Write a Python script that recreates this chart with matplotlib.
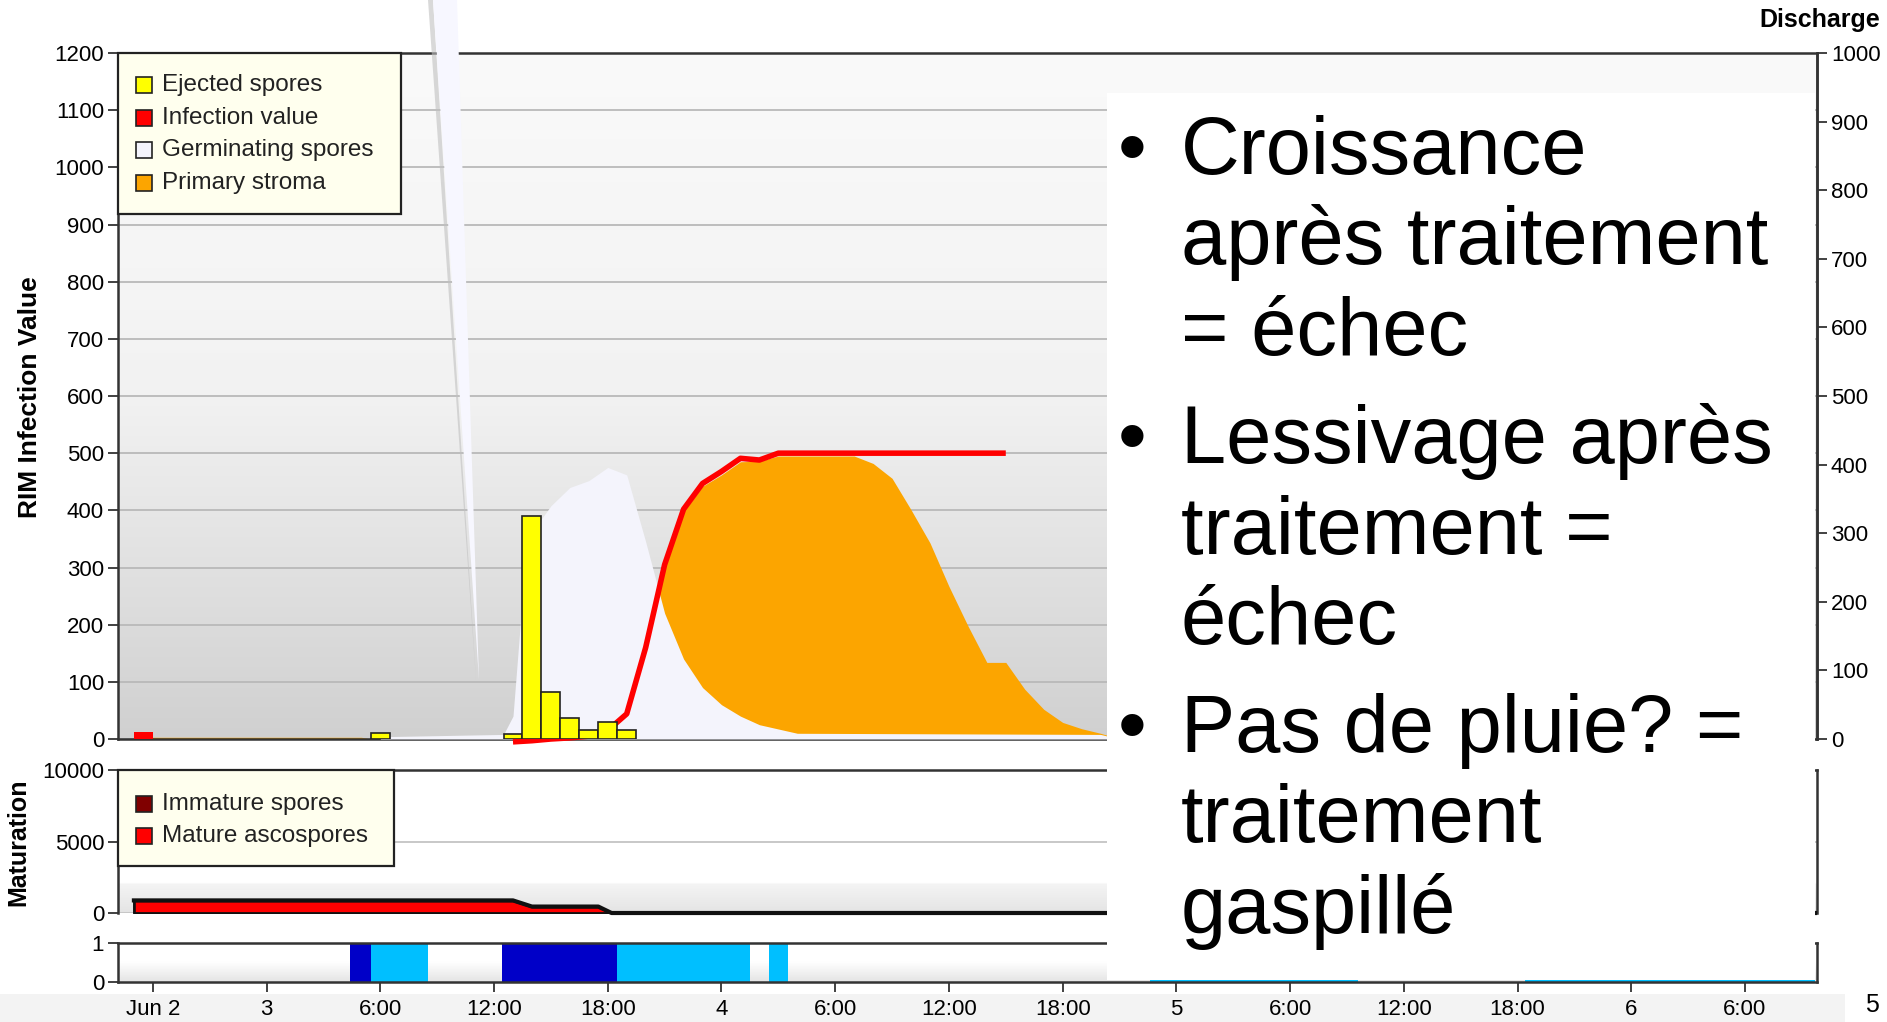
import numpy as np
import matplotlib
matplotlib.use("Agg")
import matplotlib.pyplot as plt
from matplotlib.patches import Rectangle, Polygon
from matplotlib.colors import LinearSegmentedColormap

plt.rcParams['font.family'] = ['Liberation Sans', 'DejaVu Sans']

W, H = 1887, 1022

# -----------------------------
# data (x = hours after the "Jun 2" tick)
# -----------------------------
tick_hours = list(range(0, 90, 6))
tick_labels = ["Jun 2", "3", "6:00", "12:00", "18:00", "4", "6:00", "12:00",
               "18:00", "5", "6:00", "12:00", "18:00", "6", "6:00"]

ejected_hours = [12, 19, 20, 21, 22, 23, 24, 25]
ejected_vals = [10, 9, 390, 83, 36, 15, 30, 16]

infection_first = 12
infection_hours = [19, 20, 21, 22, 23, 24, 25, 26, 27, 28, 29, 30, 31, 32, 33, 45]
infection_vals = [-5, -3, 0, 2, 5, 15, 44, 160, 305, 402, 447, 468, 491, 488, 500, 500]

germ_hours = [12, 18.5, 19, 19.5, 20, 20.5, 21, 22, 23, 24, 25, 26, 27, 28, 29,
              30, 31, 32, 34, 50, 51]
germ_vals = [4, 8, 40, 250, 340, 385, 408, 440, 452, 475, 462, 345, 220, 140, 90,
             60, 40, 25, 10, 8, 0]

stroma_hours = [-1, 11, 11.5, 22, 24, 25, 26, 27, 28, 29, 30, 31, 32, 33, 37, 38,
                39, 40, 41, 42, 43, 44, 45, 46, 47, 48, 49, 50, 51]
stroma_vals = [3, 3, 0, 0, 20, 50, 160, 300, 398, 442, 462, 485, 486, 495, 495, 482,
               456, 401, 343, 267, 198, 134, 134, 87, 52, 29, 18, 10, 0]

mat_hours = [-1, 19, 20, 23.5, 24.2, 87.7]
mature_vals = [880, 880, 450, 450, 0, 0]

wet_start = [10.4, 11.5, 18.4, 24.5, 32.5, 52.6, 72.4]
wet_end = [11.5, 14.5, 24.5, 31.5, 33.5, 63.6, 87.7]
wet_dark = [True, False, True, False, False, False, False]

discharge_ticks = list(range(0, 1001, 100))

bullets = [["Croissance", "après traitement", "= échec"],
           ["Lessivage après", "traitement =", "échec"],
           ["Pas de pluie? =", "traitement", "gaspillé"]]


def fx(x):
    return x / W


def fy(y):
    return 1 - y / H


XL = (-1.84, 87.8)
L, R = 118, 1817
fig = plt.figure(figsize=(W / 100, H / 100), dpi=100)

ax = fig.add_axes([fx(L), fy(739), fx(R) - fx(L), fy(53) - fy(739)])
axm = fig.add_axes([fx(L), fy(913), fx(R) - fx(L), fy(770) - fy(913)])
axw = fig.add_axes([fx(L), fy(982), fx(R) - fx(L), fy(943) - fy(982)])

grad = np.linspace(0, 1, 256).reshape(-1, 1)
cm_main = LinearSegmentedColormap.from_list('m', ['#d0d0d0', '#f2f2f2', '#fafafa'])
ax.imshow(grad, cmap=cm_main, aspect='auto', origin='lower',
          extent=(XL[0], XL[1], 0, 1200), zorder=0)
cm_mat = LinearSegmentedColormap.from_list('mt', [(0, '#e4e4e4'), (0.2, '#f4f4f4'),
                                                  (0.21, 'white'), (1, 'white')])
axm.imshow(grad, cmap=cm_mat, aspect='auto', origin='lower',
           extent=(XL[0], XL[1], 0, 10000), zorder=0)
cm_wet = LinearSegmentedColormap.from_list('w', ['#e4e4e4', 'white', 'white'])
axw.imshow(grad, cmap=cm_wet, aspect='auto', origin='lower',
           extent=(XL[0], XL[1], 0, 1), zorder=0)

# --- main panel ---
ax.fill_between(stroma_hours, stroma_vals, color='#fca500', lw=0, zorder=2)
ax.fill_between(germ_hours, germ_vals, color='#f4f4fc', lw=0, zorder=3)
ax.bar(-0.5, infection_first, width=1, color='#ff0000', zorder=4)
ax.plot(infection_hours, infection_vals, color='#ff0000', lw=4, zorder=4,
        solid_capstyle='butt', clip_on=False)
ax.bar(ejected_hours, ejected_vals, width=1, color='#ffff00', edgecolor='#222222',
       lw=1.2, zorder=5)

ax.set_xlim(*XL)
ax.set_ylim(0, 1200)
ax.set_yticks(range(0, 1201, 100))
ax.set_xticks([])
ax.set_axisbelow(True)
ax.grid(axis='y', color='#b9b9b9', lw=1.3)
ax.tick_params(axis='y', length=7, width=1.3, labelsize=16, color='#333333', pad=3)
for s in ax.spines.values():
    s.set_color('#333333')
    s.set_linewidth(1.8)

axr = ax.twinx()
axr.set_ylim(0, 1000)
axr.set_yticks(discharge_ticks)
axr.tick_params(axis='y', length=7, width=1.3, labelsize=16, color='#333333', pad=3)
for k, s in axr.spines.items():
    s.set_visible(k == 'right')
    s.set_color('#333333')
    s.set_linewidth(1.8)

# --- maturation panel ---
axm.fill_between(mat_hours, mature_vals, color='#ff0000', edgecolor='#111111', lw=2,
                 zorder=3)
axm.plot(mat_hours, mature_vals, color='#111111', lw=3, zorder=4, clip_on=False)
axm.set_xlim(*XL)
axm.set_ylim(0, 10000)
axm.set_yticks([0, 5000, 10000])
axm.set_xticks([])
axm.set_axisbelow(True)
axm.grid(axis='y', color='#c4c4c4', lw=1.3)
axm.tick_params(axis='y', length=7, width=1.3, labelsize=16, color='#333333', pad=3)
for s in axm.spines.values():
    s.set_color('#333333')
    s.set_linewidth(1.8)
axm.spines['bottom'].set_visible(False)

# --- wetness panel ---
for a, b, d in zip(wet_start, wet_end, wet_dark):
    axw.bar(a, 1, width=b - a, align='edge', color='#0000c8' if d else '#00bfff',
            lw=0, zorder=2)
axw.set_xlim(*XL)
axw.set_ylim(0, 1)
axw.set_yticks([0, 1])
axw.set_xticks(tick_hours)
axw.set_xticklabels(tick_labels)
axw.tick_params(axis='both', length=7, width=1.3, labelsize=16, color='#333333', pad=3)
axw.tick_params(axis='x', pad=5)
for s in axw.spines.values():
    s.set_color('#333333')
    s.set_linewidth(1.8)

# --- axis titles ---
fig.text(fx(30), fy(397), "RIM Infection Value", rotation=90, ha='center',
         va='center', fontsize=19, fontweight='bold')
fig.text(fx(18), fy(842), "Maturation", rotation=90, ha='center', va='center',
         fontsize=18, fontweight='bold')
fig.text(fx(1880), fy(20), "Discharge", ha='right', va='center', fontsize=18,
         fontweight='bold')

# --- legends drawn as boxes ---
def legend_box(x0, y0, x1, y1, entries, ys):
    fig.patches.append(Rectangle((fx(x0), fy(y1)), fx(x1) - fx(x0), fy(y0) - fy(y1),
                                 transform=fig.transFigure, facecolor='#ffffee',
                                 edgecolor='#222222', lw=1.6, zorder=5))
    for (lab, col), yy in zip(entries, ys):
        fig.patches.append(Rectangle((fx(136), fy(yy + 8)), fx(16), 16 / H,
                                     transform=fig.transFigure, facecolor=col,
                                     edgecolor='#222222', lw=1.2, zorder=6))
        fig.text(fx(162), fy(yy), lab, ha='left', va='center', fontsize=17.5,
                 color='#222222', zorder=7)


legend_box(118, 53, 401, 214,
           [("Ejected spores", '#ffff00'), ("Infection value", '#ff0000'),
            ("Germinating spores", '#f4f4fc'), ("Primary stroma", '#fca500')],
           [85, 118, 150, 183])
legend_box(118, 770, 394, 866,
           [("Immature spores", '#800000'), ("Mature ascospores", '#ff0000')],
           [804, 836])

# --- slide overlay ---
fig.patches.append(Rectangle((0, 0), fx(1845), fy(994), transform=fig.transFigure,
                             facecolor='#f3f3f3', lw=0, zorder=-1))
fig.patches.append(Rectangle((fx(1107), fy(980)), fx(1815) - fx(1107), fy(93) - fy(980),
                             transform=fig.transFigure, facecolor='white', lw=0,
                             zorder=8))
fig.patches.append(Polygon([(fx(428), fy(0)), (fx(433), fy(0)), (fx(476), fy(680))],
                           closed=True, transform=fig.transFigure,
                           facecolor='#c0c0c0', lw=0, alpha=0.6, zorder=8))
fig.patches.append(Polygon([(fx(433), fy(0)), (fx(457), fy(0)), (fx(479), fy(680))],
                           closed=True, transform=fig.transFigure,
                           facecolor='#f7f7ff', lw=0, zorder=9))

baselines = [[174, 264, 355], [463, 554, 644], [752, 842, 933]]
for para, bl in zip(bullets, baselines):
    fig.text(fx(1118), fy(bl[0]), "\u2022", ha='left', va='baseline', fontsize=59,
             zorder=10)
    for line, yy in zip(para, bl):
        fig.text(fx(1181), fy(yy), line, ha='left', va='baseline', fontsize=58.5,
                 zorder=10)

fig.text(fx(1872), fy(1005), "5", ha='center', va='center', fontsize=18, zorder=10)

fig.savefig("out.png", dpi=100)
